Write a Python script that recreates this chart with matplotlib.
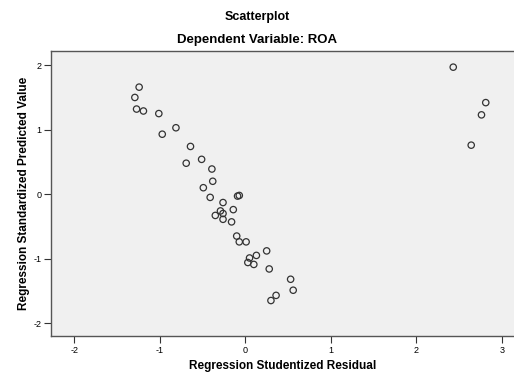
import matplotlib

matplotlib.use("Agg")
import matplotlib.pyplot as plt  # noqa: E402

# Points (studentized residual, standardized predicted)
resid = [
    -1.24, -1.29, -1.27, -1.19, -1.01, -0.97, -0.81, -0.64, -0.69, -0.51,
    -0.39, -0.38, -0.49, -0.41, -0.09, -0.07, -0.26, -0.14, -0.29, -0.26,
    -0.35, -0.26, -0.16, -0.10, -0.07, 0.01, 0.25, 0.13, 0.05, 0.03,
    0.10, 0.28, 0.53, 0.56, 0.36, 0.30, 2.43, 2.81, 2.76, 2.64,
]
predicted = [
    1.66, 1.50, 1.32, 1.29, 1.25, 0.93, 1.03, 0.74, 0.48, 0.54,
    0.39, 0.20, 0.10, -0.05, -0.03, -0.02, -0.13, -0.24, -0.26, -0.30,
    -0.33, -0.39, -0.43, -0.65, -0.74, -0.74, -0.88, -0.95, -0.99, -1.06,
    -1.09, -1.16, -1.32, -1.49, -1.57, -1.65, 1.97, 1.42, 1.23, 0.76,
]
x_ticks = [-2, -1, 0, 1, 2, 3]
y_ticks = [-2, -1, 0, 1, 2]

plt.rcParams["font.family"] = ["Liberation Sans", "DejaVu Sans"]
plt.rcParams["axes.unicode_minus"] = False

fig = plt.figure(figsize=(5.14, 3.72), dpi=100)
fig.patch.set_facecolor("white")
ax = fig.add_axes([0.0992, 0.0968, 0.9008, 0.766])
ax.set_facecolor("#f0f0f0")

ax.scatter(resid, predicted, s=21, facecolors="none", edgecolors="#333333",
           linewidths=0.9, zorder=3)

ax.set_xlim(-2.27, 3.14)
ax.set_ylim(-2.2, 2.22)
ax.set_xticks(x_ticks)
ax.set_yticks(y_ticks)
ax.tick_params(direction="out", length=5, width=0.8, color="#333333",
               labelsize=6.5, pad=2)
for side in ("left", "bottom", "top"):
    ax.spines[side].set_color("#555555")
    ax.spines[side].set_linewidth(1.0)
ax.spines["right"].set_visible(False)

ax.set_xlabel("Regression Studentized Residual", fontsize=8.5,
              fontweight="bold", labelpad=4)
ax.set_ylabel("Regression Standardized Predicted Value", fontsize=8.5,
              fontweight="bold", labelpad=2)

fig.text(0.5, 0.953, "Scatterplot", ha="center", va="center",
         fontsize=9, fontweight="bold")
fig.text(0.5, 0.892, "Dependent Variable: ROA", ha="center", va="center",
         fontsize=9.5, fontweight="bold")

fig.savefig("out.png", dpi=100)
